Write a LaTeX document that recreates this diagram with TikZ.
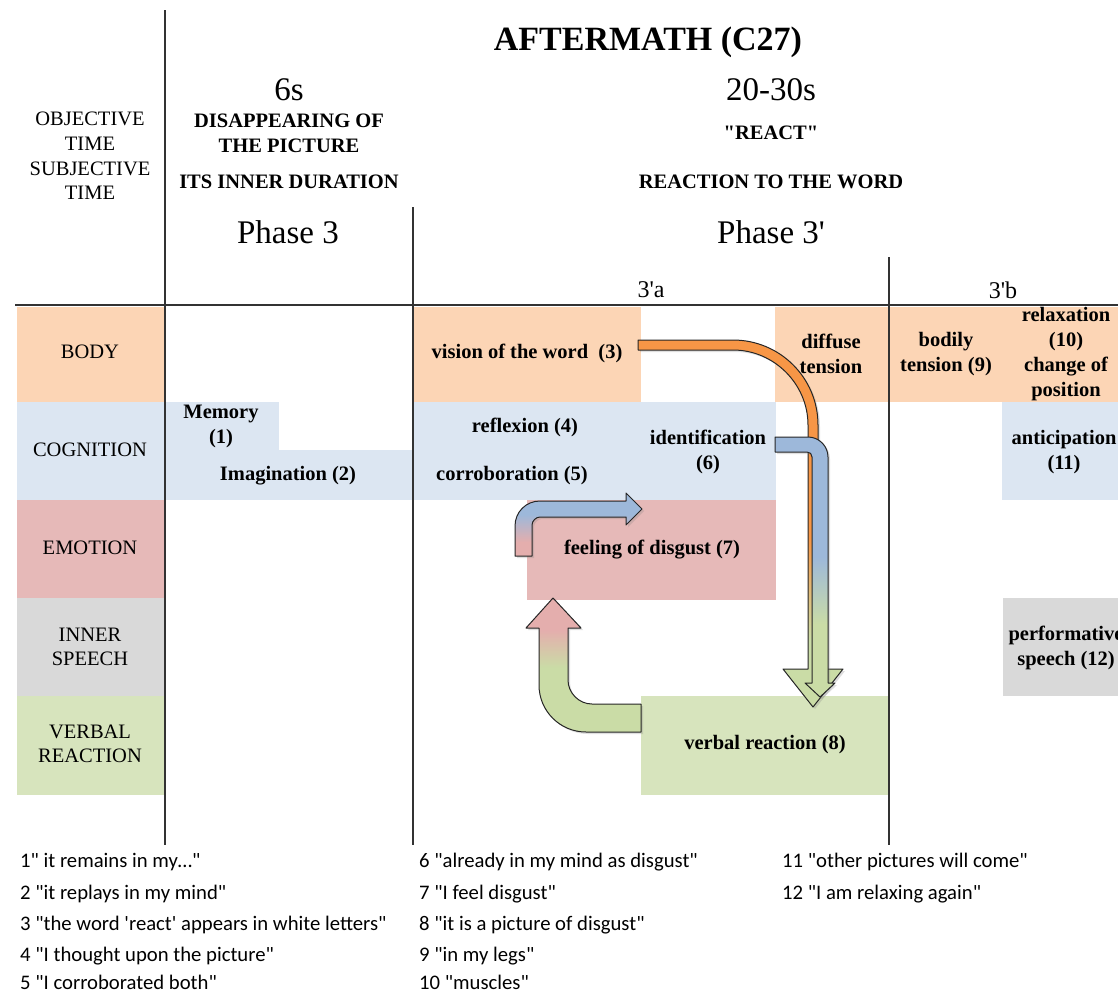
\documentclass[tikz,border=0pt]{standalone}
\usepackage{fontspec}
\setmainfont{Liberation Serif}
\newfontfamily\plainserif{Liberation Serif}
\newfontfamily\notefont{Carlito}
\usetikzlibrary{shadows}
\definecolor{bodyfill}{HTML}{FCD5B5}
\definecolor{cogfill}{HTML}{DCE6F2}
\definecolor{emofill}{HTML}{E6B9B8}
\definecolor{speechfill}{HTML}{D9D9D9}
\definecolor{verbfill}{HTML}{D7E4BD}
\definecolor{arrorange}{HTML}{F79646}
\definecolor{arrblue}{HTML}{9DB8DA}
\definecolor{arrgreen}{HTML}{CADCA6}
\definecolor{arrred}{HTML}{E4AEAD}
\pgfdeclareverticalshading{orangegreen}{100bp}{color(0bp)=(arrgreen); color(34bp)=(arrgreen); color(48bp)=(arrorange); color(100bp)=(arrorange)}
\pgfdeclareverticalshading{bluegreen}{100bp}{color(0bp)=(arrgreen); color(39bp)=(arrgreen); color(52bp)=(arrblue); color(100bp)=(arrblue)}
\pgfdeclareverticalshading{redblue}{100bp}{color(0bp)=(arrred); color(36bp)=(arrred); color(58bp)=(arrblue); color(100bp)=(arrblue)}
\pgfdeclareverticalshading{greenred}{100bp}{color(0bp)=(arrgreen); color(49bp)=(arrgreen); color(63bp)=(arrred); color(100bp)=(arrred)}
\begin{document}
\begin{tikzpicture}[x=1pt,y=-1pt,
  rowlabel/.style={align=center,font=\fontsize{20.5}{24.6}\selectfont},
  cell/.style={align=center,font=\bfseries\fontsize{20.5}{25}\selectfont},
  bighead/.style={font=\fontsize{33}{36}\selectfont},
  subhead/.style={font=\fontsize{24}{28}\selectfont},
  note/.style={anchor=west,inner sep=0pt,font=\notefont\fontsize{20.7}{23}\selectfont},
  blockarrow/.style={draw=black!85,line width=1pt,line join=round,drop shadow={opacity=0.25,shadow xshift=2pt,shadow yshift=-2pt}},
  rule/.style={draw=black!80,line width=1.5pt}]
\useasboundingbox (0,0) rectangle (1118,993);
% row labels
\fill[bodyfill] (17,307) rectangle (164,402);
\fill[cogfill] (17,402) rectangle (164,500);
\fill[emofill] (17,500) rectangle (164,598);
\fill[speechfill] (17,598) rectangle (164,696);
\fill[verbfill] (17,696) rectangle (164,795);
% cells
\fill[cogfill] (165,402) rectangle (279,450);
\fill[cogfill] (165,450) rectangle (413,500);
\fill[bodyfill] (413,307) rectangle (641,402);
\fill[bodyfill] (775,307) rectangle (1118,402);
\fill[cogfill] (413,402) rectangle (776,500);
\fill[cogfill] (1002,402) rectangle (1118,500);
\fill[emofill] (527,500) rectangle (776,600);
\fill[speechfill] (1003,598) rectangle (1118,696);
\fill[verbfill] (641,696) rectangle (889,795);
% grid
\draw[rule] (15,305) -- (1118,305);
\draw[rule] (165,10) -- (165,845);
\draw[rule] (413,207) -- (413,845);
\draw[rule] (889,257) -- (889,845);
% headings
\node[font=\bfseries\fontsize{34}{38}\selectfont] (title) at (648,42) {AFTERMATH (C27)};
\node[rowlabel] (timelabel) at (90,156) {OBJECTIVE\\TIME\\SUBJECTIVE\\TIME};
\node[bighead] (dur3) at (289,90) {6s};
\node[cell] (disap) at (289,133) {DISAPPEARING OF\\THE PICTURE};
\node[cell] (inner) at (289,182) {ITS INNER DURATION};
\node[bighead] (ph3) at (288,232) {Phase 3};
\node[bighead] (dur3p) at (771,90) {20-30s};
\node[cell] (react) at (771,133) {\plainserif\bfseries "REACT"};
\node[cell] (reacword) at (771,182) {REACTION TO THE WORD};
\node[bighead] (ph3p) at (771,232) {Phase 3\textquotesingle};
\node[subhead] (ph3a) at (651,290) {3\textquotesingle a};
\node[subhead] (ph3b) at (1003,290) {3\textquotesingle b};
\node[rowlabel] (body) at (90,352) {BODY};
\node[rowlabel] (cognition) at (90,450) {COGNITION};
\node[rowlabel] (emotion) at (90,548) {EMOTION};
\node[rowlabel] (speech) at (90,647) {INNER\\SPEECH};
\node[rowlabel] (verbal) at (90,744) {VERBAL\\REACTION};
% cell texts
\node[cell] (memory) at (221,426) {Memory\\(1)};
\node[cell] (imagin) at (288,476) {Imagination (2)};
\node[cell] (vision) at (527,353) {vision of the word\ \ (3)};
\node[cell] (diffuse) at (831,354) {diffuse\\tension};
\node[cell] (bodily) at (946,354) {bodily\\tension (9)};
\node[cell] (relax) at (1066,354) {relaxation\\(10)\\change of\\position};
\node[cell] (reflex) at (525,427) {reflexion (4)};
\node[cell] (corrob) at (512,476) {corroboration (5)};
\node[cell] (ident) at (708,452) {identification\\(6)};
\node[cell] (antic) at (1064,452) {anticipation\\(11)};
\node[cell] (disgust) at (652,550) {feeling of disgust (7)};
\node[cell] (perform) at (1066,648) {performative\\speech (12)};
\node[cell] (verbreac) at (765,745) {verbal reaction (8)};
% arrows
\path[blockarrow,shading=orangegreen] (638,340) -- (733,340) .. controls (780,340) and (818,378) .. (818,425) -- (818,669) -- (843,669) -- (813,707) -- (783,669) -- (808,669) -- (808,425) .. controls (808,384) and (774,350) .. (733,350) -- (638,350) -- cycle;
\path[blockarrow,shading=bluegreen] (775,437) -- (808,437) .. controls (819,437) and (828,446) .. (828,457) -- (828,683) -- (835,683) -- (820,697) -- (805,683) -- (812,683) -- (812,457) .. controls (812,454) and (810,452) .. (807,452) -- (775,452) -- cycle;
\path[blockarrow,shading=redblue] (515,556) -- (515,526) .. controls (515,512) and (526,501) .. (540,501) -- (626,501) -- (626,493) -- (642,509) -- (626,525) -- (626,517) -- (540,517) .. controls (536,517) and (532,521) .. (532,525) -- (532,556) -- cycle;
\path[blockarrow,shading=greenred] (641,704) -- (592,704) .. controls (579,704) and (568,693) .. (568,680) -- (568,628) -- (581,628) -- (553,598) -- (526,628) -- (539,628) -- (539,685) .. controls (539,711) and (560,732) .. (586,732) -- (641,732) -- cycle;
% notes
\node[note] (n1) at (20,862) {1" it remains in my…"};
\node[note] (n2) at (20,894) {2 "it replays in my mind"};
\node[note] (n3) at (20,925) {3 "the word \textquotesingle react\textquotesingle\ appears in white letters"};
\node[note] (n4) at (20,956) {4 "I thought upon the picture"};
\node[note] (n5) at (20,982) {5 "I corroborated both"};
\node[note] (n6) at (419,862) {6 "already in my mind as disgust"};
\node[note] (n7) at (419,894) {7 "I feel disgust"};
\node[note] (n8) at (419,925) {8 "it is a picture of disgust"};
\node[note] (n9) at (419,956) {9 "in my legs"};
\node[note] (n10) at (419,982) {10 "muscles"};
\node[note] (n11) at (782,862) {11 "other pictures will come"};
\node[note] (n12) at (782,894) {12 "I am relaxing again"};
\end{tikzpicture}
\end{document}
